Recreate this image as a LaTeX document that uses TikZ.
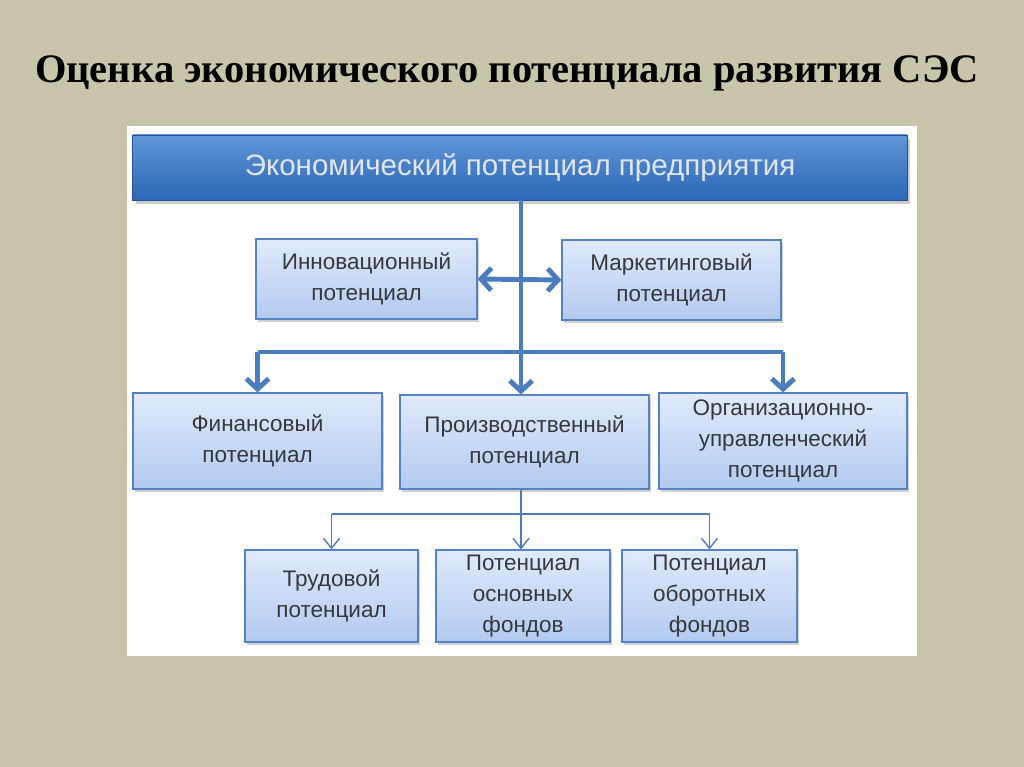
\documentclass[tikz,border=0pt]{standalone}
\usepackage{fontspec}
\setmainfont{Liberation Serif}
\newfontfamily\boxfont{Liberation Sans}
\usepackage{tikz}
\usetikzlibrary{arrows.meta, shadows, positioning}
\definecolor{bgcol}{RGB}{201,197,171}
\definecolor{linecol}{RGB}{74,124,190}
\definecolor{boxedge}{RGB}{86,130,196}
\definecolor{boxtop}{RGB}{224,234,251}
\definecolor{boxbot}{RGB}{178,202,240}
\definecolor{boxtext}{RGB}{55,55,60}
\definecolor{headtop}{RGB}{96,150,216}
\definecolor{headbot}{RGB}{44,102,182}
\tikzset{
  headbox/.style={draw=headbot!80!black, line width=0.6pt, top color=headtop, bottom color=headbot,
    minimum width=19.35cm, minimum height=1.625cm, inner sep=0pt, text={rgb,255:red,225;green,230;blue,238},
    font=\boxfont\fontsize{21}{25}\selectfont,
    drop shadow={shadow xshift=2pt, shadow yshift=-2.5pt, opacity=0.4}},
  pbox/.style={draw=boxedge, line width=0.8pt, top color=boxtop, bottom color=boxbot,
    align=center, inner sep=0pt, text=boxtext, font=\boxfont\fontsize{16}{22.3}\selectfont,
    drop shadow={shadow xshift=1.5pt, shadow yshift=-2pt, opacity=0.35}},
  link/.style={draw=linecol, line width=3.5pt},
  sublink/.style={draw=linecol, line width=1pt},
}

\begin{document}
\begin{tikzpicture}[x=0.025cm, y=-0.025cm, >={Straight Barb[length=0.26cm, width=0.56cm]}]
    \fill[bgcol] (0,0) rectangle (1024,767);
    \useasboundingbox (0,0) rectangle (1024,767);
    \node (title) at (507,73) {\bfseries\fontsize{28.8}{34}\selectfont Оценка экономического потенциала развития СЭС};
    \fill[white] (127,126) rectangle (917,656);

    \node[headbox] (top) at (520,167.5) {Экономический потенциал предприятия};

    \node[pbox, minimum width=5.525cm, minimum height=2cm] (innov) at (366.5,279) {Инновационный\\потенциал};
    \node[pbox, minimum width=5.475cm, minimum height=2cm] (market) at (671.5,280) {Маркетинговый\\потенциал};

    \node[pbox, minimum width=6.225cm, minimum height=2.4cm] (fin) at (257.5,441) {Финансовый\\потенциал};
    \node[pbox, minimum width=6.225cm, minimum height=2.35cm] (prod) at (524.5,442) {Производственный\\потенциал};
    \node[pbox, minimum width=6.2cm, minimum height=2.4cm] (org) at (783,441) {Организационно-\\управленческий\\потенциал};

    \node[pbox, minimum width=4.325cm, minimum height=2.3cm] (trud) at (331.5,596) {Трудовой\\потенциал};
    \node[pbox, minimum width=4.35cm, minimum height=2.3cm] (osn) at (523,596) {Потенциал\\основных\\фондов};
    \node[pbox, minimum width=4.375cm, minimum height=2.3cm] (obor) at (709.5,596) {Потенциал\\оборотных\\фондов};

    \coordinate (hub) at (521,352);
    \coordinate (hub2) at (521,514);

    % main trunk
    \draw[link, ->] (top.south -| hub) -- (hub |- prod.north);
    \draw[link, <->] (innov.east) -- (market.west);
    \draw[link] (fin.north |- hub) -- (org.north |- hub);
    \draw[link, ->] (fin.north |- hub) -- (fin.north);
    \draw[link, ->] (org.north |- hub) -- (org.north);

    % production branch
    \draw[sublink] (hub |- prod.south) -- (hub2);
    \draw[sublink] (trud.north |- hub2) -- (obor.north |- hub2);
    \draw[sublink, -{Straight Barb[length=0.25cm, width=0.4cm]}] (trud.north |- hub2) -- (trud.north);
    \draw[sublink, -{Straight Barb[length=0.25cm, width=0.4cm]}] (hub2) -- (hub2 |- osn.north);
    \draw[sublink, -{Straight Barb[length=0.25cm, width=0.4cm]}] (obor.north |- hub2) -- (obor.north);
\end{tikzpicture}
\end{document}
